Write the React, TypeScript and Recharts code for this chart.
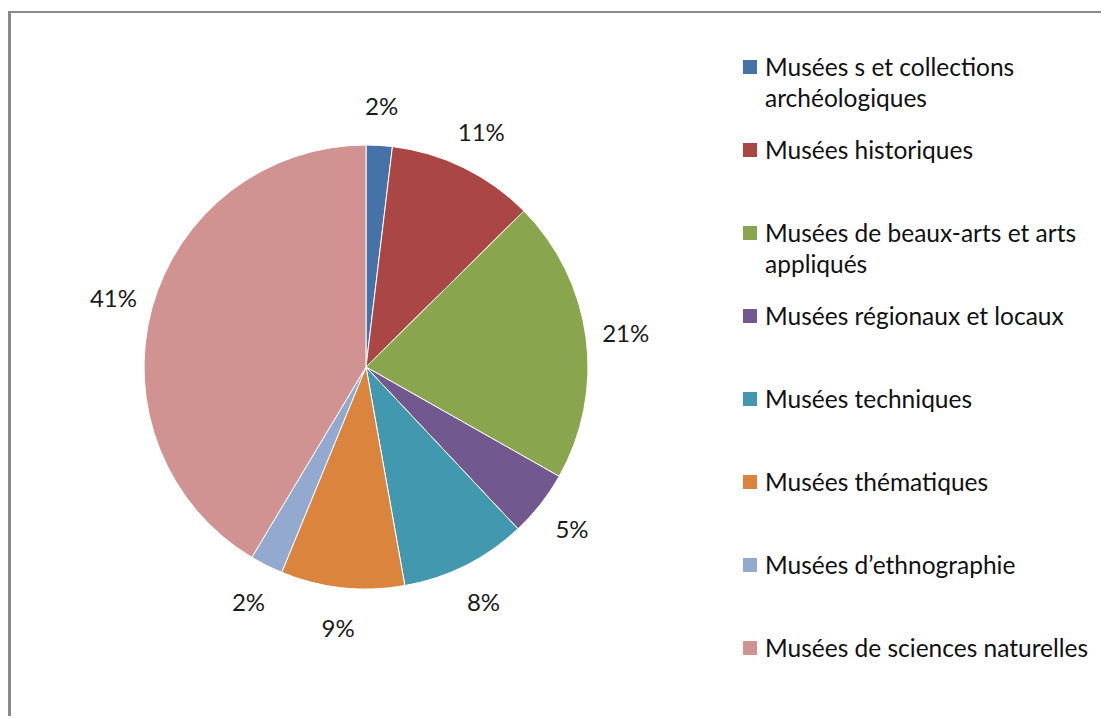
import { PieChart, Pie, Cell, Legend } from "recharts";

const categories = [
  "Musées s et collections archéologiques",
  "Musées historiques",
  "Musées de beaux-arts et arts appliqués",
  "Musées régionaux et locaux",
  "Musées techniques",
  "Musées thématiques",
  "Musées d\u2019ethnographie",
  "Musées de sciences naturelles",
];
const shares = [1.9, 10.7, 20.6, 4.8, 9.2, 9.0, 2.4, 41.4];
// percentages as printed on the chart
const labels = ["2%", "11%", "21%", "5%", "8%", "9%", "2%", "41%"];
const COLORS = ["#4572A7", "#AA4643", "#89A54E", "#71588F", "#4198AF", "#DB843D", "#93A9CF", "#D19392"];

const FONT = "Lato, 'DejaVu Sans', sans-serif";
const RAD = Math.PI / 180;

const data = categories.map((name, i) => ({ name, value: shares[i], label: labels[i] }));

const renderLabel = (props: any) => {
  const { cx, cy, midAngle, outerRadius, index } = props;
  const r = outerRadius + 40;
  const x = cx + r * Math.cos(-midAngle * RAD);
  const y = cy + r * Math.sin(-midAngle * RAD);
  return (
    <text x={x} y={y} textAnchor="middle" dominantBaseline="central" fill="#1a1a1a" fontSize={24} fontFamily={FONT}>
      {data[index].label}
    </text>
  );
};

const LegendBox = () => (
  <div style={{ fontFamily: FONT, fontSize: 24.5, color: "#111" }}>
    {data.map((d, i) => (
      <div key={d.name} style={{ height: 83, display: "flex", alignItems: "flex-start" }}>
        <span style={{ width: 14, height: 14, marginTop: 9, marginRight: 8, flex: "none", background: COLORS[i] }} />
        <span style={{ lineHeight: "31px", width: 340 }}>{d.name}</span>
      </div>
    ))}
  </div>
);

export default function App() {
  return (
    <div
      style={{
        position: "relative",
        top: 3,
        width: 1098,
        height: 706,
        borderTop: "2px solid #8a8a8a",
        borderLeft: "3px solid #8a8a8a",
        background: "#fff",
      }}
    >
      <PieChart
        width={1098}
        height={706}
        margin={{ top: 0, right: 0, bottom: 0, left: 0 }}
        style={{ position: "absolute", left: 0, top: 0 }}
      >
        <Pie
          data={data}
          dataKey="value"
          nameKey="name"
          cx={355}
          cy={354}
          outerRadius={222}
          startAngle={90}
          endAngle={-270}
          stroke="#fff"
          strokeWidth={1}
          label={renderLabel}
          labelLine={false}
          isAnimationActive={false}
        >
          {data.map((_, i) => (
            <Cell key={i} fill={COLORS[i]} />
          ))}
        </Pie>
        <Legend
          content={<LegendBox />}
          wrapperStyle={{ left: 732, top: 38, width: 365, right: "auto", bottom: "auto" }}
        />
      </PieChart>
    </div>
  );
}
